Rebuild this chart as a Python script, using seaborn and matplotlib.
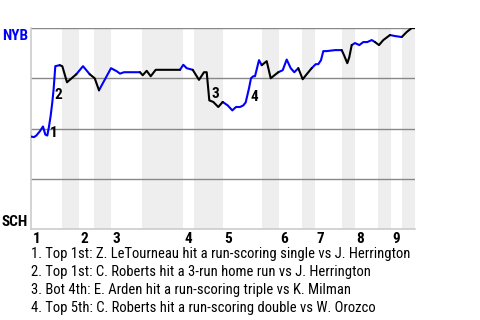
import matplotlib
matplotlib.use("Agg")
import matplotlib.pyplot as plt
import matplotlib.font_manager as fm
import seaborn as sns
import pandas as pd
import numpy as np

# ---- data ----
# game progress (0..384) and NYB win probability
progress = [0, 3, 5.3, 8.7, 12, 14.3, 16.3, 18, 19.7, 21.3, 22.7, 24.3, 28.7, 31.3,
            36, 45.3, 52, 58.7, 63.7, 68, 80, 85.7, 89, 93, 109, 111.7, 115.7, 119.7,
            124.7, 149, 152.3, 155.7, 161.7, 168, 173, 175.7, 178.3, 182.3, 187.3, 191.7,
            196.7, 201.3, 205, 209, 212.3, 214.7, 218, 220, 222.3, 224, 228, 230.7, 235.7,
            239.7, 247.3, 251.7, 255.7, 259.7, 263.3, 267.3, 271.7, 275.7, 280.7, 284.7,
            287.3, 290, 292.3, 295.7, 304, 310.7, 313, 316.3, 318.3, 320.7, 324, 328.3,
            332.3, 336.3, 340.7, 344, 348, 352.3, 359, 364, 370.7, 375.7, 380.7, 384]
win_prob = [0.46, 0.457, 0.465, 0.485, 0.51, 0.47, 0.465, 0.51, 0.565, 0.63, 0.70, 0.81,
            0.815, 0.81, 0.73, 0.77, 0.81, 0.77, 0.75, 0.69, 0.80, 0.785, 0.773, 0.78,
            0.78, 0.765, 0.787, 0.76, 0.792, 0.792, 0.817, 0.80, 0.792, 0.742, 0.78,
            0.78, 0.64, 0.632, 0.607, 0.632, 0.615, 0.59, 0.607, 0.607, 0.615, 0.63, 0.70, 0.75,
            0.76, 0.76, 0.84, 0.815, 0.835, 0.75, 0.78, 0.79, 0.843, 0.80, 0.78, 0.80,
            0.745, 0.77, 0.80, 0.82, 0.82, 0.84, 0.885, 0.885, 0.89, 0.89, 0.865, 0.825,
            0.855, 0.915, 0.925, 0.915, 0.93, 0.93, 0.94, 0.93, 0.915, 0.94, 0.965, 0.96,
            0.955, 0.98, 1.0, 1.0]

# half-inning boundaries (progress units): starts of each half
half_starts = [0, 31, 48, 63, 80, 111, 152, 163, 192, 231, 248, 271, 284, 311, 324, 347, 360, 371]
game_end = 384
inning_labels = ["1", "2", "3", "4", "5", "6", "7", "8", "9"]

events = ["1", "2", "3", "4"]
event_x = [23, 27.5, 184, 223.7]
event_y = [0.48, 0.665, 0.672, 0.657]

notes = [
    "1. Top 1st: Z. LeTourneau hit a run-scoring single vs J. Herrington",
    "2. Top 1st: C. Roberts hit a 3-run home run vs J. Herrington",
    "3. Bot 4th: E. Arden hit a run-scoring triple vs K. Milman",
    "4. Top 5th: C. Roberts hit a run-scoring double vs W. Orozco",
]
team_top = "NYB"
team_bottom = "SCH"

BLUE = "#0000ff"

sns.set_theme(style="white")
names = {f.name for f in fm.fontManager.ttflist}
if "Roboto Condensed" in names:
    FONT = "Roboto Condensed"
else:
    FONT = "Roboto"
plt.rcParams["font.family"] = [FONT, "DejaVu Sans"]

fig = plt.figure(figsize=(4.8, 3.2), dpi=100)
ax = fig.add_axes([31/480, 1-229/320, 384/480, 201/320])

# shaded bottom halves
bounds = half_starts + [game_end]
for i in range(len(half_starts)):
    if i % 2 == 1:
        ax.axvspan(bounds[i], bounds[i+1], color="#eeeeee", lw=0, zorder=0)

# build segments colored by half-inning
px = np.array(progress); py = np.array(win_prob)
half_idx = np.searchsorted(np.array(half_starts), px, side="right") - 1
rows = []
for h in range(len(half_starts)):
    idx = np.where(half_idx == h)[0]
    if len(idx) == 0:
        continue
    if idx[0] > 0:
        idx = np.concatenate([[idx[0]-1], idx])
    team = "top" if h % 2 == 0 else "bot"
    for k in idx:
        rows.append({"x": px[k], "y": py[k], "seg": h, "team": team})
df = pd.DataFrame(rows)
sns.lineplot(data=df, x="x", y="y", units="seg", hue="team", estimator=None,
             palette={"top": BLUE, "bot": "black"}, lw=1.5, legend=False, ax=ax,
             sort=False, zorder=3)

ax.set_xlim(0, game_end)
ax.set_ylim(0, 1)
for gy in [0.25, 0.5, 0.75, 1.0]:
    ax.axhline(gy, color="#888888", lw=1, zorder=1)
for s in ["top", "right"]:
    ax.spines[s].set_visible(False)
for s in ["left", "bottom"]:
    ax.spines[s].set_color("#cccccc")
    ax.spines[s].set_linewidth(1.2)
ax.set_xticks([]); ax.set_yticks([])
ax.set_xlabel(""); ax.set_ylabel("")

# inning labels at start of each top half
for i, lab in enumerate(inning_labels):
    ax.text(half_starts[2*i] + 1.5, -0.015, lab, ha="left", va="top",
            fontsize=11, fontweight="bold", color="black")

# team labels
ax.text(-0.008, 0.995, team_top, transform=ax.transAxes, ha="right", va="top",
        fontsize=11, fontweight="bold", color=BLUE)
ax.text(-0.008, 0.0, team_bottom, transform=ax.transAxes, ha="right", va="bottom",
        fontsize=11, fontweight="bold", color="black")

# event numbers
for t, ex, ey in zip(events, event_x, event_y):
    ax.text(ex, ey, t, ha="center", va="center", fontsize=11, fontweight="bold",
            color="black", zorder=4)

# footnotes
for i, n in enumerate(notes):
    fig.text(31/480, 1 - (254 + 18*i)/320, n, ha="left", va="center",
             fontsize=10.5, color="black")

fig.savefig("out.png", dpi=100)
